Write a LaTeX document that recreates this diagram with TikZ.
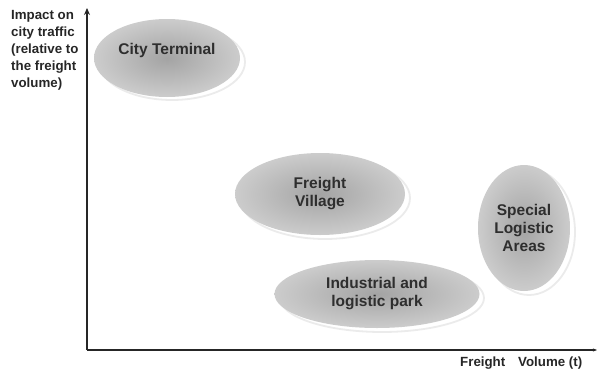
\documentclass[tikz,border=0pt]{standalone}
\usepackage{fontspec}
\setmainfont{Liberation Sans}
\usetikzlibrary{shapes.geometric,arrows.meta}
\begin{document}
\begin{tikzpicture}[x=1pt,y=-1pt,
  areafont/.style={font=\bfseries\fontsize{15.5}{18}\selectfont,text=black!82,align=center},
  area/.style={ellipse,inner sep=0pt,shading=radial,inner color=black!36,outer color=black!20,areafont},
  rim/.style={ellipse,inner sep=0pt,draw=black!8,line width=1.8pt,fill=white},
  axis/.style={line width=1.3pt,black!85},
  axlabel/.style={font=\bfseries\fontsize{13.3}{17}\selectfont,text=black!85}]
\useasboundingbox (0,0) rectangle (597,370);
% light rims behind the ellipses
\node[rim,minimum width=146pt,minimum height=76pt] (r1) at (172,62) {};
\node[rim,minimum width=170pt,minimum height=82pt] (r2) at (325,198) {};
\node[rim,minimum width=204pt,minimum height=68pt] (r3) at (382,298) {};
\node[rim,minimum width=92pt,minimum height=126pt] (r4) at (529,232) {};
% areas
\node[area,minimum width=146pt,minimum height=78pt] (ct) at (167,58) {};
\node[areafont,inner sep=0pt] (ctlabel) at ([yshift=8pt]ct.center) {City Terminal};
\node[area,minimum width=170pt,minimum height=82pt] (fv) at (320,194) {Freight\\Village};
\node[area,minimum width=205pt,minimum height=68pt] (ip) at (377,294) {Industrial and\\logistic park};
\node[area,minimum width=92pt,minimum height=126pt] (sl) at (524,228) {Special\\Logistic\\Areas};
% axes
\coordinate (o) at (87,350);
\coordinate (ytop) at (87,8);
\coordinate (xend) at (597,350);
\draw[axis,-{Stealth[length=7pt,width=6pt]}] (o) -- (ytop);
\draw[axis,-{Stealth[length=4pt,width=3pt]}] (o) -- (xend);
% axis labels
\node[axlabel,anchor=north west,align=left,inner sep=0pt] (ylab) at (11,10.5)
  {Impact on\\city traffic\\(relative to\\the freight\\volume)};
\node[axlabel,anchor=base west,inner sep=0pt] (xlab1) at (460,366) {Freight};
\node[axlabel,anchor=base west,inner sep=0pt] (xlab2) at (518,366) {Volume (t)};
\end{tikzpicture}
\end{document}
